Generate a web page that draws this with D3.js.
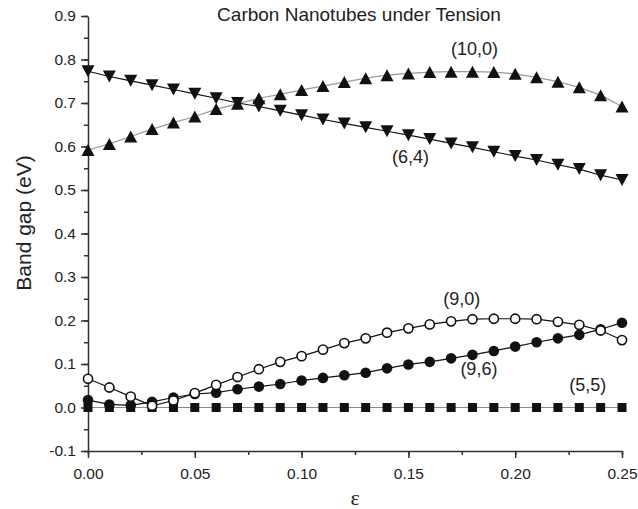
<!DOCTYPE html>
<html lang="en">

<head>
  <meta charset="UTF-8">
  <title>Carbon Nanotubes under Tension</title>
  <script src="https://d3js.org/d3.v7.min.js"></script>
  <style>
    body {
      margin: 0;
      background: white;
    }

    text {
      font-family: "Liberation Sans", Arial, sans-serif;
      fill: #222;
    }

    .axis path,
    .axis line {
      stroke: #333;
      stroke-width: 1.5px;
    }

    .axis text {
      font-size: 15.5px;
    }
  </style>
</head>

<body>
  <div id="chart"></div>

  <script>
    // strain values (x)
    const strain = [0.00, 0.01, 0.02, 0.03, 0.04, 0.05, 0.06, 0.07, 0.08, 0.09,
      0.10, 0.11, 0.12, 0.13, 0.14, 0.15, 0.16, 0.17, 0.18, 0.19,
      0.20, 0.21, 0.22, 0.23, 0.24, 0.25];

    // band gaps (eV)
    const gap10_0 = [0.592, 0.606, 0.623, 0.640, 0.655, 0.669, 0.686, 0.698, 0.711, 0.720,
      0.730, 0.739, 0.748, 0.757, 0.764, 0.768, 0.771, 0.772, 0.772, 0.771,
      0.767, 0.759, 0.749, 0.736, 0.718, 0.692];
    const gap6_4 = [0.773, 0.761, 0.751, 0.741, 0.731, 0.721, 0.711, 0.700, 0.692, 0.682,
      0.672, 0.662, 0.653, 0.644, 0.635, 0.626, 0.617, 0.607, 0.598, 0.588,
      0.578, 0.569, 0.558, 0.548, 0.534, 0.523];
    const gap9_0 = [0.066, 0.046, 0.025, 0.004, 0.016, 0.033, 0.052, 0.070, 0.088, 0.105,
      0.118, 0.133, 0.148, 0.159, 0.172, 0.182, 0.191, 0.198, 0.203, 0.204,
      0.204, 0.203, 0.197, 0.190, 0.177, 0.155];
    const gap9_6 = [0.017, 0.007, 0.005, 0.013, 0.023, 0.031, 0.034, 0.042, 0.048, 0.054,
      0.062, 0.068, 0.074, 0.080, 0.090, 0.099, 0.105, 0.113, 0.121, 0.130,
      0.140, 0.150, 0.159, 0.167, 0.180, 0.195];
    const gap5_5 = [0, 0, 0, 0, 0, 0, 0, 0, 0, 0,
      0, 0, 0, 0, 0, 0, 0, 0, 0, 0,
      0, 0, 0, 0, 0, 0];

    // curve labels: [text, strain, gap]
    const curveLabels = [
      ["(10,0)", 0.181, 0.811],
      ["(6,4)", 0.151, 0.562],
      ["(9,0)", 0.175, 0.236],
      ["(9,6)", 0.183, 0.075],
      ["(5,5)", 0.234, 0.038]
    ];

    const xTicks = [0.00, 0.05, 0.10, 0.15, 0.20, 0.25];
    const yTicks = [-0.1, 0.0, 0.1, 0.2, 0.3, 0.4, 0.5, 0.6, 0.7, 0.8, 0.9];

    const margin = { top: 16, right: 16, bottom: 58, left: 88 };
    const width = 638 - margin.left - margin.right;
    const height = 509 - margin.top - margin.bottom;

    const svg = d3.select("#chart")
      .append("svg")
      .attr("width", width + margin.left + margin.right)
      .attr("height", height + margin.top + margin.bottom)
      .append("g")
      .attr("transform", `translate(${margin.left},${margin.top})`);

    const x = d3.scaleLinear().domain([0, 0.25]).range([0, width]);
    const y = d3.scaleLinear().domain([-0.1, 0.9]).range([height, 0]);

    // plain hyphen for negatives, as in the original
    const fmtY = v => d3.format(".1f")(v).replace("\u2212", "-");

    // minor ticks first, majors drawn over them
    svg.append("g")
      .attr("class", "axis")
      .attr("transform", `translate(0,${height})`)
      .call(d3.axisBottom(x).tickValues(d3.range(0, 0.2501, 0.025)).tickSize(4).tickFormat(""))
      .call(g => g.select(".domain").remove());

    svg.append("g")
      .attr("class", "axis")
      .call(d3.axisLeft(y).tickValues(d3.range(-0.1, 0.9001, 0.05)).tickSize(4).tickFormat(""))
      .call(g => g.select(".domain").remove());

    svg.append("g")
      .attr("class", "axis")
      .attr("transform", `translate(0,${height})`)
      .call(d3.axisBottom(x).tickValues(xTicks).tickSize(7).tickSizeOuter(0).tickPadding(10)
        .tickFormat(d3.format(".2f")));

    svg.append("g")
      .attr("class", "axis")
      .call(d3.axisLeft(y).tickValues(yTicks).tickSize(7).tickSizeOuter(0).tickPadding(5)
        .tickFormat(fmtY));

    // axis titles
    svg.append("text")
      .attr("text-anchor", "middle")
      .attr("x", width / 2)
      .attr("y", height + 54)
      .attr("font-size", "22px")
      .style("font-family", "'Liberation Serif', 'DejaVu Serif', serif")
      .text("ε");

    svg.append("text")
      .attr("text-anchor", "middle")
      .attr("transform", "rotate(-90)")
      .attr("x", -207)
      .attr("y", -57)
      .attr("font-size", "21px")
      .text("Band gap (eV)");

    // title
    svg.append("text")
      .attr("text-anchor", "middle")
      .attr("x", 359 - margin.left)
      .attr("y", 5)
      .attr("font-size", "19px")
      .text("Carbon Nanotubes under Tension");

    // shapes for markers, centred on the box
    const triUp = "M0,-6L6.5,6L-6.5,6Z";
    const triDown = "M0,6L6.5,-6L-6.5,-6Z";

    const line = d3.line()
      .x((d, i) => x(strain[i]))
      .y(d => y(d));

    const series = [
      { values: gap5_5, lineColor: "#8a8a8a", marker: "square" },
      { values: gap9_6, lineColor: "#111", marker: "dot" },
      { values: gap9_0, lineColor: "#111", marker: "ring" },
      { values: gap10_0, lineColor: "#9a9a9a", marker: "up" },
      { values: gap6_4, lineColor: "#111", marker: "down" }
    ];

    series.forEach(s => {
      svg.append("path")
        .datum(s.values)
        .attr("fill", "none")
        .attr("stroke", s.lineColor)
        .attr("stroke-width", 1.2)
        .attr("d", line);
    });

    series.forEach(s => {
      const g = svg.append("g");
      const pts = g.selectAll(".pt")
        .data(s.values)
        .enter();

      if (s.marker === "square") {
        pts.append("rect")
          .attr("x", (d, i) => x(strain[i]) - 4.5)
          .attr("y", d => y(d) - 4.5)
          .attr("width", 9)
          .attr("height", 9)
          .attr("fill", "#111");
      } else if (s.marker === "dot") {
        pts.append("circle")
          .attr("cx", (d, i) => x(strain[i]))
          .attr("cy", d => y(d))
          .attr("r", 5.3)
          .attr("fill", "#111");
      } else if (s.marker === "ring") {
        pts.append("circle")
          .attr("cx", (d, i) => x(strain[i]))
          .attr("cy", d => y(d))
          .attr("r", 4.6)
          .attr("fill", "white")
          .attr("stroke", "#111")
          .attr("stroke-width", 1.6);
      } else {
        pts.append("path")
          .attr("transform", (d, i) => `translate(${x(strain[i])},${y(d)})`)
          .attr("d", s.marker === "up" ? triUp : triDown)
          .attr("fill", "#111");
      }
    });

    // curve labels
    svg.selectAll(".curve-label")
      .data(curveLabels)
      .enter()
      .append("text")
      .attr("class", "curve-label")
      .attr("text-anchor", "middle")
      .attr("x", d => x(d[1]))
      .attr("y", d => y(d[2]))
      .attr("font-size", "18px")
      .text(d => d[0]);
  </script>
</body>

</html>
